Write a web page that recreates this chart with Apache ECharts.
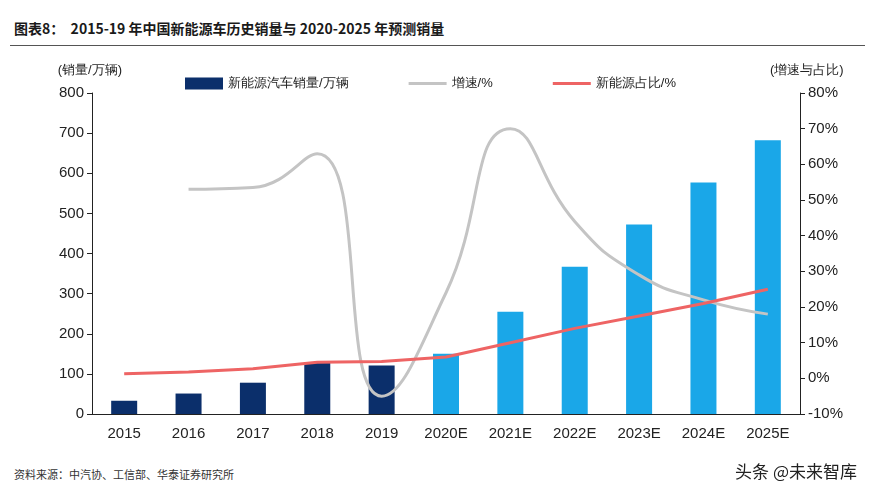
<!DOCTYPE html>
<html><head><meta charset="utf-8">
<script src="https://cdn.jsdelivr.net/npm/echarts@6/dist/echarts.min.js"></script>
<style>
body{margin:0;background:#fff;font-family:"Noto Sans CJK SC",sans-serif}
#title{position:absolute;left:14px;top:18px;font-size:14px;font-weight:bold;color:#1a1a1a}
#line{position:absolute;left:10px;top:45px;width:855px;border-top:1px solid #555}
#src{position:absolute;left:14px;top:466px;font-size:11px;color:#333}
#wm{position:absolute;right:18px;top:458px;font-size:17px;color:#222}
#chart{position:absolute;left:0;top:50px;width:875px;height:410px}
</style></head><body>
<div id="title">图表8：&nbsp;&nbsp;2015-19 年中国新能源车历史销量与 2020-2025 年预测销量</div>
<div id="line"></div>
<div id="chart"></div>
<div id="src">资料来源：中汽协、工信部、华泰证券研究所</div>
<div id="wm">头条 @未来智库</div>
<script>
const years = ['2015','2016','2017','2018','2019','2020E','2021E','2022E','2023E','2024E','2025E'];
const sales = [33, 51, 78, 127, 121, 150, 255, 367, 472, 577, 682];
const growth = [null, 53, 53.5, 63, -5, 24, 70, 44, 29, 22, 18];
const share = [1.3, 1.8, 2.7, 4.5, 4.7, 6, 10, 14, 17.5, 21, 25];
const historyCount = 5;

const chart = echarts.init(document.getElementById('chart'));
const axisText = {color:'#222', fontSize:15, fontFamily:'Arial'};
const lineIcon = 'path://M0,0 L40,0 L40,3 L0,3 Z';
chart.setOption({
  animation:false,
  grid:{left:92, right:75, top:43, bottom:46},
  legend:{
    top:22, left:180, itemGap:60, itemWidth:38, itemHeight:12,
    textStyle:{fontSize:13, color:'#222'},
    data:[
      {name:'新能源汽车销量/万辆', icon:'rect', itemStyle:{color:'#0b2f6b'}},
      {name:'增速/%', icon:lineIcon, itemHeight:3},
      {name:'新能源占比/%', icon:lineIcon, itemHeight:3}
    ]
  },
  xAxis:{type:'category', data:years,
    axisLine:{lineStyle:{color:'#222'}}, axisTick:{show:false},
    axisLabel:Object.assign({margin:12}, axisText)},
  yAxis:[
    {type:'value', min:0, max:800, interval:100, name:'(销量/万辆)', nameGap:16,
     nameTextStyle:{fontSize:13, color:'#222', align:'right', padding:[0,-30,0,0]},
     splitLine:{show:false}, axisLine:{show:true, lineStyle:{color:'#222'}}, axisTick:{show:true},
     axisLabel:axisText},
    {type:'value', min:-10, max:80, interval:10, name:'(增速与占比)', nameGap:16,
     nameTextStyle:{fontSize:13, color:'#222', align:'left', padding:[0,0,0,-30]},
     splitLine:{show:false}, axisLine:{show:true, lineStyle:{color:'#222'}}, axisTick:{show:true},
     axisLabel:Object.assign({formatter:'{value}%'}, axisText)}
  ],
  series:[
    {name:'新能源汽车销量/万辆', type:'bar', barWidth:26,
     data:sales.map((v,i)=>({value:v, itemStyle:{color: i<historyCount ? '#0b2f6b' : '#1aa7e8'}})),
     itemStyle:{color:'#0b2f6b'}},
    {name:'增速/%', type:'line', yAxisIndex:1, smooth:0.5, symbol:'none',
     data:growth, lineStyle:{color:'#c4c4c4', width:3}, itemStyle:{color:'#c4c4c4'}},
    {name:'新能源占比/%', type:'line', yAxisIndex:1, symbol:'none',
     data:share, lineStyle:{color:'#ee6464', width:3}, itemStyle:{color:'#ee6464'}}
  ]
});
</script>
</body></html>
